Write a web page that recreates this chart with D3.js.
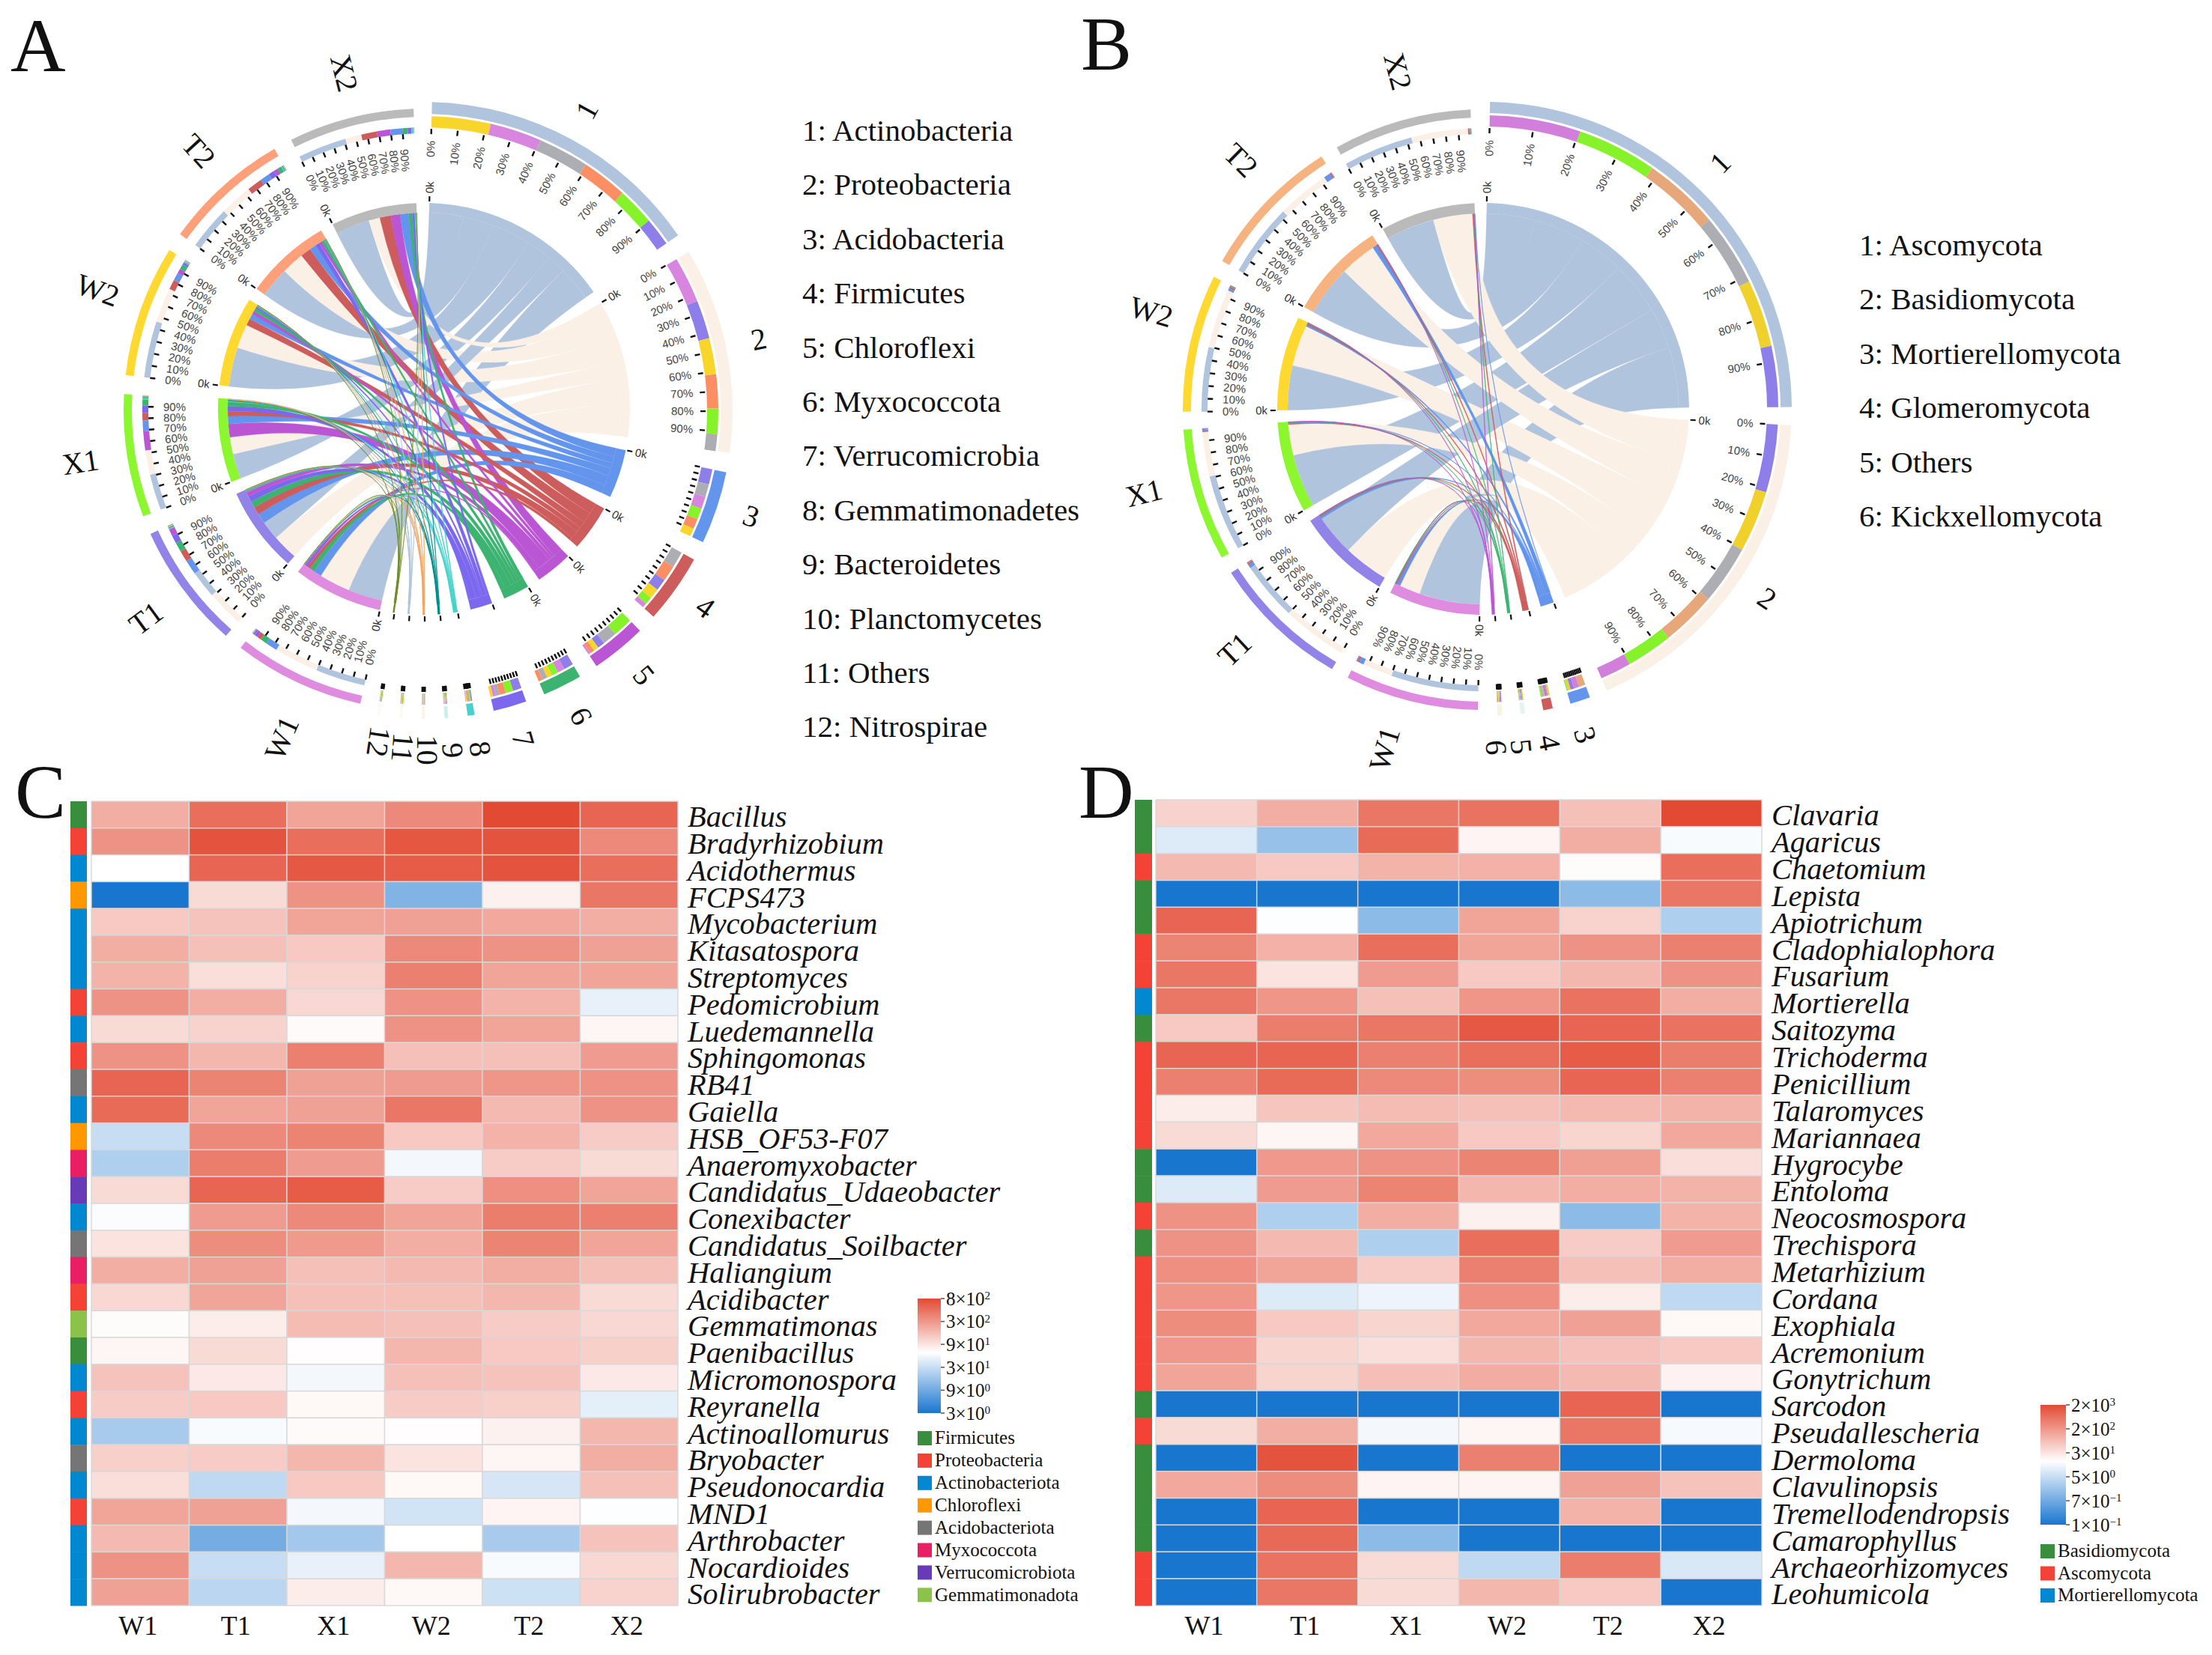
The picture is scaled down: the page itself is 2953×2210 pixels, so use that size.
<!DOCTYPE html>
<html><head><meta charset="utf-8">
<style>html,body{margin:0;background:#fff}svg{display:block}text{font-family:"Liberation Serif",serif}</style>
<script src="https://cdn.jsdelivr.net/npm/d3@7/dist/d3.min.js"></script>
</head><body><svg id="c" width="2953" height="2210"></svg>
<script>
const samples=["W1","T1","X1","W2","T2","X2"];
const sampleColorsA=["#DF8BDF","#9283E8","#8CF62E","#FFD92F","#FFA07A","#BABABA"];
const sampleColorsB=["#DF8BDF","#9283E8","#8CF62E","#FFD92F","#F6B27F","#BABABA"];
const stackColorsA=["#D885DF","#8E7EEA","#85F22A","#F8D52A","#FB8E62","#ADAEB4"];
const stackColorsB=["#D27FDC","#8E7EEA","#85F22A","#F0D02A","#E6A77A","#ADAEB4"];

const taxaA=["1","2","3","4","5","6","7","8","9","10","11","12"];
const taxaColorsA=["#B0C4DE","#FAF0E6","#6495ED","#CD5C5C","#BA55D3","#3CB371","#7B68EE","#48D1CC","#008B8B","#F4A460","#B0C4DE","#6B8E23"];
const taxaRingColorsA=["#B0C4DE","#FAF0E6","#6495ED","#CD5C5C","#BA55D3","#3CB371","#7B68EE","#48D1CC","#CDEEEE","#FBF3EA","#FAFAF4","#FAFAF4"];
const m1A=[10.2,5.6,7.4,11.6,9,10];
const m2A=[9.1,7.6,5,7.1,6.7,3.3];
const m3A=[2.4,3,2.2,1.6,2,2.5];
const m4A=[.9,2.3,1.5,2,3.1,3.2];
const m5A=[.4,1.4,3.9,1,.9,2.8];
const m6A=[1.4,1.9,1.3,1,.8,1];
const m7A=[.6,1.7,1.5,.5,1.2,.75];
const m8A=[.1,.25,.25,.2,.25,.25];
const m9A=[.05,.15,.15,.1,.15,.1];
const m10A=[.05,.15,.1,.1,.1,.1];
const m11A=[.05,.1,.15,.1,.1,.1];
const m12A=[.02,.1,.2,.08,.05,.05];
const legendA=["1: Actinobacteria","2: Proteobacteria","3: Acidobacteria","4: Firmicutes","5: Chloroflexi","6: Myxococcota","7: Verrucomicrobia","8: Gemmatimonadetes","9: Bacteroidetes","10: Planctomycetes","11: Others","12: Nitrospirae"];
const nameDrA=[-10,-5,-1,-1,0,0,0,0,-2,-4,-6,-10,22,12,13,11,0,-1];
const nameDaA=[0,0,0,0,0,0,0,0,0,0,0,0,-1,0,0,0,0,0];

const taxaB=["1","2","3","4","5","6"];
const taxaColorsB=["#B0C4DE","#FAF0E6","#6495ED","#CD5C5C","#3CB371","#BA55D3"];
const taxaRingColorsB=["#B0C4DE","#FAF0E6","#6495ED","#CD5C5C","#E6F4F0","#FBF3DF"];
const m1B=[17.9,12,15.7,13.2,15,14.3];
const m2B=[6.1,13.4,9.1,12.1,10.8,11.6];
const m3B=[1,.7,.2,.5,1.3,.1];
const m4B=[.3,.3,.25,.35,.3,.3];
const m5B=[.15,.15,.15,.2,.1,.15];
const m6B=[.2,.15,.15,.15,.1,.15];
const legendB=["1: Ascomycota","2: Basidiomycota","3: Mortierellomycota","4: Glomeromycota","5: Others","6: Kickxellomycota"];
const nameDrB=[-6,-6,-6,-8,-8,-9,13,7,15,10,8,5];
const nameDaB=[-1.5,-1,1.2,1.2,1.3,1.3,3,3,3,3,1.4,.8];

const generaC=["Bacillus","Bradyrhizobium","Acidothermus","FCPS473","Mycobacterium","Kitasatospora","Streptomyces","Pedomicrobium","Luedemannella","Sphingomonas","RB41","Gaiella","HSB_OF53-F07","Anaeromyxobacter","Candidatus_Udaeobacter","Conexibacter","Candidatus_Soilbacter","Haliangium","Acidibacter","Gemmatimonas","Paenibacillus","Micromonospora","Reyranella","Actinoallomurus","Bryobacter","Pseudonocardia","MND1","Arthrobacter","Nocardioides","Solirubrobacter"];
const phylaC=["Firmicutes","Proteobacteria","Actinobacteriota","Chloroflexi","Acidobacteriota","Myxococcota","Verrucomicrobiota","Gemmatimonadota"];
const phylaColorsC=["#388E3C","#F44336","#0288D1","#FF9800","#757575","#E91E63","#673AB7","#8BC34A"];
const genusPhylumC=[0,1,2,3,2,2,2,1,2,1,4,2,3,5,6,2,4,5,1,7,0,2,1,2,4,2,1,2,2,2];
const heatC=[
[4.5,8,5,6.5,10,8.5],[6,9.5,8,9.3,9.5,6.5],[0,8.5,9.2,9,9.5,8],[-10,2,6,-5.5,.8,7.5],[3,3.3,5,5.2,4.8,4.5],
[4.5,3.5,3,6.5,6,5.2],[4.2,1.8,2.5,7,5,5],[6,4.5,2.2,6,4.2,-1],[2,2.5,.3,6,5,.5],[6,4,7,3.5,3.5,5.5],
[8.5,6.8,5.2,5.5,5.8,6],[8.2,5,5.2,7.5,3.8,6],[-2.5,6.5,6.8,3,4.2,2.8],[-3.5,7.2,5.5,-.5,2.8,2],[2,8.5,9,2.8,6.2,5],
[-.2,5.5,6.5,5,7.2,7],[1.5,6.3,5.6,4.5,6.8,5],[4.5,5.2,3.5,3.8,4.5,3.5],[2.2,5,3.5,3.5,4,2],[.2,1,3.7,3.5,2.8,2.2],
[.5,2,.1,4,3,2.6],[3.3,1.2,-.5,3.5,3.3,1.2],[2.8,3,.4,2.8,2.6,-1.2],[-3.8,-.3,.3,.1,.8,4],[2.6,2.8,4,1.5,.5,4.5],
[1.8,-2.8,3,.4,-1.8,3.5],[5,5.2,-.5,-2,.6,-.1],[3.8,-6,-4,0,-3.8,3.3],[6,-2.5,-1,4,-.3,2.2],[5.2,-3,1,.4,-2.2,2.5]];
const barTicksC=[["8","2"],["3","2"],["9","1"],["3","1"],["9","0"],["3","0"]];

const generaD=["Clavaria","Agaricus","Chaetomium","Lepista","Apiotrichum","Cladophialophora","Fusarium","Mortierella","Saitozyma","Trichoderma","Penicillium","Talaromyces","Mariannaea","Hygrocybe","Entoloma","Neocosmospora","Trechispora","Metarhizium","Cordana","Exophiala","Acremonium","Gonytrichum","Sarcodon","Pseudallescheria","Dermoloma","Clavulinopsis","Tremellodendropsis","Camarophyllus","Archaeorhizomyces","Leohumicola"];
const phylaD=["Basidiomycota","Ascomycota","Mortierellomycota"];
const phylaColorsD=["#388E3C","#F44336","#0288D1"];
const genusPhylumD=[0,0,1,0,0,1,1,2,0,1,1,1,1,0,0,1,0,1,1,1,1,1,0,1,0,0,0,0,1,1];
const heatD=[
[2.5,4.5,7.5,7.8,3.5,10],[-1.5,-4.5,8.2,.6,4.5,-.3],[3.8,3,4.2,4.3,.2,8],[-10,-10,-10,-10,-5,7.5],[8.5,-.1,-5,5,2.5,-3.5],
[6.8,4.3,8,5,6,7],[7.5,1.5,5.5,3,4,6],[7.5,5.8,3.5,5.8,7.8,4.5],[3,7.2,7.5,9.2,8.5,7.8],[8.5,8.5,7,8,9,7.2],
[7,8.2,6.5,6.3,8.5,7],[1,3.2,3.7,3.5,3.8,4.2],[2,.5,4.8,3,2.3,4.8],[-10,5.7,6,6.8,5.3,1.8],[-1.5,5.5,6.8,4,4.5,4.2],
[6,-3.5,4.5,.8,-5,4.2],[6,3.8,-3.5,8,2.8,5.5],[6.2,5,2.8,7,3.5,4.5],[5.8,-1.5,-.8,6.2,1,-2.8],[6.3,3,2.3,4.8,5.2,.4],
[5.7,2.3,1.8,4,3.4,3],[5,2.4,3.6,4.6,3.8,.7],[-10,-10,-10,-10,8.5,-10],[2,4.5,-.5,.5,7.5,-.4],[-10,9.5,-10,7,-10,-10],
[4.8,6.3,.6,.6,5.2,3.3],[-10,8.5,-10,-10,4.2,-10],[-10,8.3,-5,-10,-10,-10],[-10,7.8,2,-2.8,7.2,-1.7],[-10,7.5,2,4,3,-10]];
const barTicksD=[["2","3"],["2","2"],["3","1"],["5","0"],["7","\u22121"],["1","\u22121"]];

const svg=d3.select("#c");
const rad=d=>d*Math.PI/180;
const ink="#111";

function circos(opt){
  const taxa=opt.taxa,m=opt.matrix,nT=taxa.length,nS=samples.length;
  const taxaTot=m.map(r=>d3.sum(r));
  const sampTot=samples.map((_,j)=>d3.sum(m,r=>r[j]));
  const total=d3.sum(taxaTot)+d3.sum(sampTot);
  const k=d3.scaleLinear().domain([0,total]).range([0,360-(nT+nS)*opt.gap]);
  const sectors=[];let a=opt.start;
  taxa.forEach((t,i)=>{const w=k(taxaTot[i]);sectors.push({name:t,kind:"t",i,idx:i,a0:a,a1:a+w,color:opt.ringColors[i]});a+=w+opt.gap;});
  samples.forEach((t,j)=>{const w=k(sampTot[j]);sectors.push({name:t,kind:"s",i:j,idx:nT+j,a0:a,a1:a+w,color:opt.sampleColors[j]});a+=w+opt.gap;});
  const arc=d3.arc();
  const gT=svg.append("g").attr("transform",`translate(${opt.tc[0]},${opt.tc[1]})`);
  const gS=svg.append("g").attr("transform",`translate(${opt.sc[0]},${opt.sc[1]})`);
  const gN=svg.append("g").attr("transform",`translate(${opt.nc[0]},${opt.nc[1]}) scale(1,1.012)`);
  const chordG=svg.append("g").attr("transform",`translate(${opt.ccx},${opt.ccy})`);
  const RL=opt.RL;
  const tSeg={},sSeg={};
  sectors.forEach(s=>{
    const Rr=s.kind==="t"?opt.RT:opt.RS, g=s.kind==="t"?gT:gS;
    if(s.kind==="t"){
      const stack=samples.map((_,j)=>({j,v:m[s.i][j]})).sort((p,q)=>q.v-p.v);
      let x=s.a0;
      stack.forEach(d=>{const w=k(d.v);g.append("path").attr("d",arc({innerRadius:Rr.stackIn,outerRadius:Rr.stackOut,startAngle:rad(x),endAngle:rad(x+w)})).attr("fill",opt.stackColors[d.j]);x+=w;});
      x=s.a0;
      for(let j=nS-1;j>=0;j--){const w=k(m[s.i][j]);tSeg[s.i+"_"+j]=[x,x+w];x+=w;}
    }else{
      const stack=taxa.map((_,i)=>({i,v:m[i][s.i]})).sort((p,q)=>q.v-p.v);
      let x=s.a0;
      stack.forEach(d=>{const w=k(d.v);g.append("path").attr("d",arc({innerRadius:Rr.stackIn,outerRadius:Rr.stackOut,startAngle:rad(x),endAngle:rad(x+w)})).attr("fill",opt.colors[d.i]);sSeg[d.i+"_"+s.i]=[x,x+w];x+=w;});
    }
  });
  const ribbons=[];
  for(let i=0;i<nT;i++)for(let j=0;j<nS;j++)ribbons.push({i,j,v:m[i][j]});
  ribbons.sort((p,q)=>q.v-p.v);
  const rib=d3.ribbon().radius(RL.link);
  ribbons.forEach(d=>{
    const t=tSeg[d.i+"_"+d.j],s=sSeg[d.i+"_"+d.j];
    chordG.append("path").attr("d",rib({source:{startAngle:rad(t[0]),endAngle:rad(t[1])},target:{startAngle:rad(s[0]),endAngle:rad(s[1])}}))
      .attr("fill",opt.colors[d.i]).attr("stroke",opt.colors[d.i]).attr("stroke-width",d.v<.6?0.6:0.3);
  });
  sectors.forEach(s=>{
    const Rr=s.kind==="t"?opt.RT:opt.RS, g=s.kind==="t"?gT:gS;
    g.append("path").attr("d",arc({innerRadius:Rr.ringIn,outerRadius:Rr.ringOut,startAngle:rad(s.a0),endAngle:rad(s.a1)})).attr("fill",s.color);
    const fill=s.kind==="t"?opt.colors[s.i]:s.color;
    chordG.append("path").attr("d",arc({innerRadius:RL.link,outerRadius:RL.ring,startAngle:rad(s.a0),endAngle:rad(s.a1)})).attr("fill",fill);
    const pct=d3.scaleLinear().domain([0,100]).range([s.a0,s.a1]);
    const right=s.a0<190;
    d3.range(0,100,10).forEach(p=>{
      const an=pct(p);
      g.append("line").attr("transform",`rotate(${an-90})`).attr("x1",Rr.tickIn).attr("x2",Rr.tickOut).attr("stroke",ink).attr("stroke-width",2.4);
      if(s.kind==="s"||opt.labelled.includes(s.name)){
        g.append("text").attr("transform",right?`rotate(${an-90})`:`rotate(${an+90})`)
          .attr("x",right?Rr.pct:-Rr.pct).attr("dy","0.35em").attr("text-anchor",right?"end":"start")
          .style("font-family","Liberation Sans").style("font-size","15px").attr("fill","#444").text(p+"%");
      }
    });
    chordG.append("line").attr("transform",`rotate(${s.a0-90})`).attr("x1",RL.ring+2).attr("x2",RL.ring+9).attr("stroke",ink).attr("stroke-width",2.2);
    if(s.kind==="s"||opt.labelled0k.includes(s.name)){
      chordG.append("text").attr("transform",right?`rotate(${s.a0-90})`:`rotate(${s.a0+90})`)
        .attr("x",right?RL.ring+13:-(RL.ring+13)).attr("dy","0.35em").attr("text-anchor",right?"start":"end")
        .style("font-family","Liberation Sans").style("font-size","15px").attr("fill","#333").text("0k");
    }
    const mid=(s.a0+s.a1)/2+opt.nameDa[s.idx];
    const nr=456+opt.nameDr[s.idx];
    gN.append("text").attr("transform",`rotate(${mid<190?mid-90:mid+90})`)
      .attr("x",mid<190?nr:-nr).attr("dy","0.33em").attr("text-anchor","middle")
      .style("font-size","40px").attr("fill",ink).text(s.name);
  });
}
circos({taxa:taxaA,matrix:[m1A,m2A,m3A,m4A,m5A,m6A,m7A,m8A,m9A,m10A,m11A,m12A],colors:taxaColorsA,ringColors:taxaRingColorsA,sampleColors:sampleColorsA,stackColors:stackColorsA,
  labelled:["1","2"],labelled0k:["1","2","3","4","5","6"],gap:3.62,start:1.5,nameDr:nameDrA,nameDa:nameDaA,
  tc:[566,548],sc:[567,547],nc:[571,544],ccx:566,ccy:546,
  RT:{ringIn:396,ringOut:412,stackIn:378,stackOut:393,tickIn:369,tickOut:376,pct:360},
  RS:{ringIn:391,ringOut:402,stackIn:369,stackOut:377,tickIn:362,tickOut:369,pct:349},
  RL:{link:262,ring:275}});
circos({taxa:taxaB,matrix:[m1B,m2B,m3B,m4B,m5B,m6B],colors:taxaColorsB,ringColors:taxaRingColorsB,sampleColors:sampleColorsB,stackColors:stackColorsB,
  labelled:["1","2"],labelled0k:["1","2"],gap:3.4,start:1.0,nameDr:nameDrB,nameDa:nameDaB,
  tc:[1982,546],sc:[1980,547],nc:[1985,546],ccx:1980,ccy:546,
  RT:{ringIn:395,ringOut:410,stackIn:377,stackOut:392,tickIn:368,tickOut:375,pct:359},
  RS:{ringIn:390,ringOut:401,stackIn:368,stackOut:376,tickIn:361,tickOut:368,pct:348},
  RL:{link:261,ring:275}});

legendA.forEach((t,i)=>svg.append("text").attr("x",1071).attr("y",188+i*72.4).style("font-size","41px").attr("fill",ink).text(t));
legendB.forEach((t,i)=>svg.append("text").attr("x",2482).attr("y",341+i*72.4).style("font-size","41px").attr("fill",ink).text(t));
[["A",14,95],["B",1443,93],["C",20,1092],["D",1440,1092]].forEach(d=>svg.append("text").attr("x",d[1]).attr("y",d[2]).style("font-size","102px").attr("fill",ink).text(d[0]));

function heat(o){
  const x=d3.scaleBand().domain(samples).range([o.x0,o.x1]);
  const y=d3.scaleBand().domain(o.genera).range([o.y0,o.y1]);
  const col=d3.scaleLinear().domain([-10,0,10]).range(["#1976CF","#FFFFFF","#E34A33"]);
  const g=svg.append("g");
  o.genera.forEach((name,r)=>{
    samples.forEach((s,c)=>{
      g.append("rect").attr("x",x(s)).attr("y",y(name)).attr("width",x.bandwidth()).attr("height",y.bandwidth())
        .attr("fill",col(o.data[r][c])).attr("stroke","#D8D8D8").attr("stroke-width",1.4);
    });
    g.append("rect").attr("x",o.ax0).attr("y",y(name)).attr("width",o.ax1-o.ax0).attr("height",y.bandwidth()+.5).attr("fill",o.phyColors[o.genusPhylum[r]]);
    g.append("text").attr("x",o.x1+o.labelDx).attr("y",y(name)+y.bandwidth()/2+3).attr("dy","0.33em")
      .style("font-style","italic").style("font-size",o.fs+"px").attr("fill",ink).text(name);
  });
  samples.forEach(s=>g.append("text").attr("x",x(s)+x.bandwidth()/2-3).attr("y",o.xlabY).attr("text-anchor","middle").style("font-size","36px").attr("fill",ink).text(s));
  const id="grad"+o.id;
  const gr=svg.append("defs").append("linearGradient").attr("id",id).attr("x1",0).attr("y1",0).attr("x2",0).attr("y2",1);
  [[0,10],[o.whiteAt,0],[1,-10]].forEach(d=>gr.append("stop").attr("offset",d[0]).attr("stop-color",col(d[1])));
  g.append("rect").attr("x",o.bx0).attr("y",o.by0).attr("width",o.bx1-o.bx0).attr("height",o.by1-o.by0).attr("fill",`url(#${id})`);
  const ty=d3.scalePoint().domain(d3.range(o.ticks.length)).range([o.by0,o.by1]);
  o.ticks.forEach((t,i)=>{
    g.append("line").attr("x1",o.bx1).attr("x2",o.bx1+5).attr("y1",ty(i)).attr("y2",ty(i)).attr("stroke","#555").attr("stroke-width",1.5);
    const tx=g.append("text").attr("x",o.bx1+7).attr("y",ty(i)).attr("dy","0.35em").style("font-size","25px").attr("fill",ink);
    tx.append("tspan").text(t[0]+"\u00D710");
    tx.append("tspan").attr("dy","-0.5em").style("font-size","15px").text(t[1]);
  });
  o.phyla.forEach((p,i)=>{
    const yy=o.ly0+i*o.ldy;
    g.append("rect").attr("x",o.bx0).attr("y",yy-9).attr("width",19).attr("height",19).attr("fill",o.phyColors[i]);
    g.append("text").attr("x",o.bx0+23).attr("y",yy).attr("dy","0.33em").style("font-size","25px").attr("fill",ink).text(p);
  });
}
heat({id:"C",genera:generaC,data:heatC,phyla:phylaC,phyColors:phylaColorsC,genusPhylum:genusPhylumC,ticks:barTicksC,
  x0:122,x1:905,y0:1070,y1:2144,ax0:94,ax1:116,labelDx:13,fs:40.4,xlabY:2183,whiteAt:.47,
  bx0:1225,bx1:1256,by0:1734,by1:1887,ly0:1920,ldy:29.9});
heat({id:"D",genera:generaD,data:heatD,phyla:phylaD,phyColors:phylaColorsD,genusPhylum:genusPhylumD,ticks:barTicksD,
  x0:1543,x1:2352,y0:1068,y1:2144,ax0:1515,ax1:1538,labelDx:13,fs:40.4,xlabY:2183,whiteAt:.47,
  bx0:2724,bx1:2758,by0:1876,by1:2036,ly0:2071,ldy:29.5});
</script></body></html>
